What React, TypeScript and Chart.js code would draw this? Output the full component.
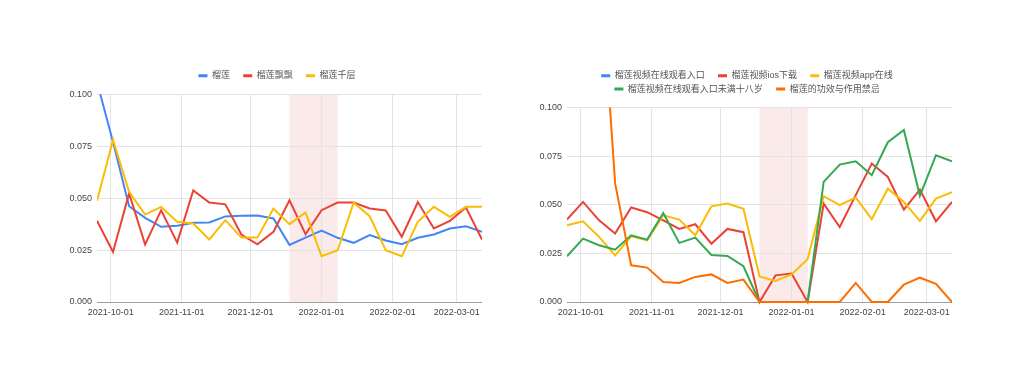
import React, { useEffect, useRef } from 'react';
import { Chart, registerables } from 'chart.js';

Chart.register(...registerables);

// ---------- data ----------
const weekDates = [
  '2021-09-25', '2021-10-02', '2021-10-09', '2021-10-16', '2021-10-23',
  '2021-10-30', '2021-11-06', '2021-11-13', '2021-11-20', '2021-11-27',
  '2021-12-04', '2021-12-11', '2021-12-18', '2021-12-25', '2022-01-01',
  '2022-01-08', '2022-01-15', '2022-01-22', '2022-01-29', '2022-02-05',
  '2022-02-12', '2022-02-19', '2022-02-26', '2022-03-05', '2022-03-12',
];
const xTickLabels = ['2021-10-01', '2021-11-01', '2021-12-01', '2022-01-01', '2022-02-01', '2022-03-01'];
const yTickValues = [0, 0.025, 0.05, 0.075, 0.1];
const shadedRange = ['2021-12-18', '2022-01-08'];

const leftLabels = ['榴莲', '榴莲飘飘', '榴莲千层'];
const durian = [0.106, 0.077, 0.0461, 0.0405, 0.0362, 0.0367, 0.0381, 0.0383, 0.0412, 0.0415, 0.0416, 0.0402, 0.0275, 0.031, 0.0344, 0.0309, 0.0285, 0.0322, 0.0296, 0.0278, 0.0309, 0.0325, 0.0354, 0.0365, 0.0338];
const durianPiaopiao = [0.0391, 0.0241, 0.0523, 0.0277, 0.0442, 0.0286, 0.0537, 0.0479, 0.047, 0.0325, 0.0278, 0.0338, 0.049, 0.0326, 0.0442, 0.0479, 0.0479, 0.045, 0.0441, 0.0314, 0.0481, 0.0354, 0.0391, 0.0455, 0.0301];
const durianQianceng = [0.0487, 0.078, 0.0531, 0.0421, 0.0458, 0.0386, 0.0378, 0.0301, 0.0394, 0.031, 0.031, 0.045, 0.0375, 0.0431, 0.022, 0.0249, 0.0478, 0.0413, 0.0249, 0.022, 0.0386, 0.0458, 0.041, 0.0458, 0.0458];

const rightLabels = ['榴莲视频在线观看入口', '榴莲视频ios下载', '榴莲视频app在线', '榴莲视频在线观看入口未满十八岁', '榴莲的功效与作用禁忌'];
const videoOnline = [null, null, null, null, null, null, null, null, null, null, null, null, null, null, null, null, null, null, null, null, null, null, null, null, null];
const videoIos = [0.0424, 0.0515, 0.042, 0.0352, 0.0486, 0.0462, 0.042, 0.0376, 0.04, 0.03, 0.0376, 0.0359, 0, 0.0137, 0.0146, 0, 0.0506, 0.0386, 0.055, 0.0712, 0.0643, 0.0475, 0.0578, 0.0415, 0.0515];
const videoApp = [0.0395, 0.0415, 0.0335, 0.024, 0.0338, 0.0317, 0.0446, 0.0424, 0.0343, 0.0492, 0.0506, 0.048, 0.0132, 0.0108, 0.0142, 0.022, 0.0544, 0.0498, 0.0537, 0.0426, 0.0583, 0.0515, 0.0417, 0.0532, 0.0565];
const videoUnder18 = [0.0235, 0.0326, 0.0292, 0.0269, 0.0343, 0.0321, 0.0458, 0.0304, 0.0331, 0.0242, 0.0237, 0.0184, 0, 0, 0, 0, 0.0618, 0.0707, 0.0724, 0.0652, 0.0822, 0.0885, 0.0546, 0.0755, 0.0724];
const benefits = [0.2, 0.19, 0.183, 0.061, 0.0189, 0.0177, 0.0103, 0.0098, 0.0129, 0.0142, 0.0098, 0.0115, 0, 0, 0, 0, 0, 0, 0.0098, 0, 0, 0.0089, 0.0125, 0.0094, 0];

const seriesColors = ['#4285F4', '#EA4335', '#FBBC04', '#34A853', '#FF6D01'];

// ---------- styling ----------
const FONT = "'Liberation Sans', Arial, 'Noto Sans CJK SC', sans-serif";
Chart.defaults.font.family = FONT;

const bandPlugin = {
  id: 'shadedBand',
  beforeDraw(chart: any) {
    const x = chart.scales.x;
    const y = chart.scales.y;
    const ctx = chart.ctx;
    const x0 = x.getPixelForValue(Date.parse(shadedRange[0]));
    const x1 = x.getPixelForValue(Date.parse(shadedRange[1]));
    const yTop = y.getPixelForValue(yTickValues[yTickValues.length - 1]);
    const yBot = y.getPixelForValue(yTickValues[0]);
    ctx.save();
    ctx.fillStyle = 'rgba(230, 160, 160, 0.22)';
    ctx.fillRect(x0, yTop, x1 - x0, yBot - yTop);
    ctx.restore();
  },
};

function makeConfig(labels: string[], series: (number | null)[][]): any {
  const datasets = labels.map((label, i) => ({
    label,
    data: weekDates.map((d, k) => ({ x: Date.parse(d), y: series[i][k] })),
    xAxisID: 'x',
    yAxisID: 'y',
    borderColor: seriesColors[i],
    backgroundColor: seriesColors[i],
    borderWidth: 2,
    pointRadius: 0,
    pointHoverRadius: 0,
    tension: 0,
    order: -i,
    clip: { left: 0, top: 0, right: 0, bottom: 3 },
  }));
  return {
    type: 'line',
    data: { datasets },
    plugins: [bandPlugin],
    options: {
      responsive: false,
      animation: false,
      devicePixelRatio: 1,
      layout: { padding: { top: 7, left: 0, right: 0, bottom: 0 } },
      plugins: {
        tooltip: { enabled: false },
        legend: {
          position: 'top',
          align: 'center',
          labels: {
            usePointStyle: true,
            pointStyleWidth: 18,
            boxHeight: 9,
            padding: 4.3,
            color: '#555',
            font: { size: 9, family: FONT },
            sort: (a: any, b: any) => a.datasetIndex - b.datasetIndex,
            generateLabels: (chart: any) =>
              Chart.defaults.plugins.legend.labels
                .generateLabels(chart)
                .map((l: any) => ({ ...l, pointStyle: 'dash', lineWidth: 3, lineCap: 'butt', hidden: false })),
          },
        },
      },
      scales: {
        x: {
          type: 'linear',
          position: 'bottom',
          min: Date.parse(weekDates[0]),
          max: Date.parse(weekDates[weekDates.length - 1]),
          afterBuildTicks: (s: any) => {
            s.ticks = xTickLabels.map((t) => ({ value: Date.parse(t) }));
          },
          afterFit: (s: any) => { s.height = 20; },
          grid: { color: '#e3e3e3', lineWidth: 1, drawTicks: false },
          border: { display: true, color: '#9e9e9e', width: 1 },
          ticks: {
            autoSkip: false,
            maxRotation: 0,
            padding: 5,
            color: '#444',
            font: { size: 9, family: FONT },
            callback: (v: number) => {
              const found = xTickLabels.find((t) => Date.parse(t) === v);
              return found ?? '';
            },
          },
        },
        y: {
          type: 'linear',
          position: 'left',
          min: yTickValues[0],
          max: yTickValues[yTickValues.length - 1],
          afterBuildTicks: (s: any) => {
            s.ticks = yTickValues.map((v) => ({ value: v }));
          },
          afterFit: (s: any) => { s.width = 37; },
          grid: { color: '#e3e3e3', lineWidth: 1, drawTicks: false },
          border: { display: false },
          ticks: {
            padding: 5,
            color: '#444',
            font: { size: 9, family: FONT },
            callback: (v: number) => Number(v).toFixed(3),
          },
        },
        gap: {
          type: 'linear',
          axis: 'x',
          position: 'top',
          display: true,
          grid: { display: false, drawTicks: false },
          border: { display: false },
          ticks: { display: false },
          afterFit: (s: any) => { s.height = 4; },
        },
      },
    },
  };
}

function LineChart({ labels, series, left, top }: { labels: string[]; series: (number | null)[][]; left: number; top: number }) {
  const ref = useRef<HTMLCanvasElement>(null);
  useEffect(() => {
    const chart = new Chart(ref.current as HTMLCanvasElement, makeConfig(labels, series));
    return () => chart.destroy();
  }, []);
  return (
    <canvas
      ref={ref}
      width={425}
      height={262}
      style={{ position: 'absolute', left, top, width: 425, height: 262 }}
    />
  );
}

export default function App() {
  return (
    <div style={{ position: 'absolute', left: 0, top: 0, width: 1000, height: 360, background: '#fff' }}>
      <LineChart labels={leftLabels} series={[durian, durianPiaopiao, durianQianceng]} left={60} top={60} />
      <LineChart
        labels={rightLabels}
        series={[videoOnline, videoIos, videoApp, videoUnder18, benefits]}
        left={530}
        top={60}
      />
    </div>
  );
}
